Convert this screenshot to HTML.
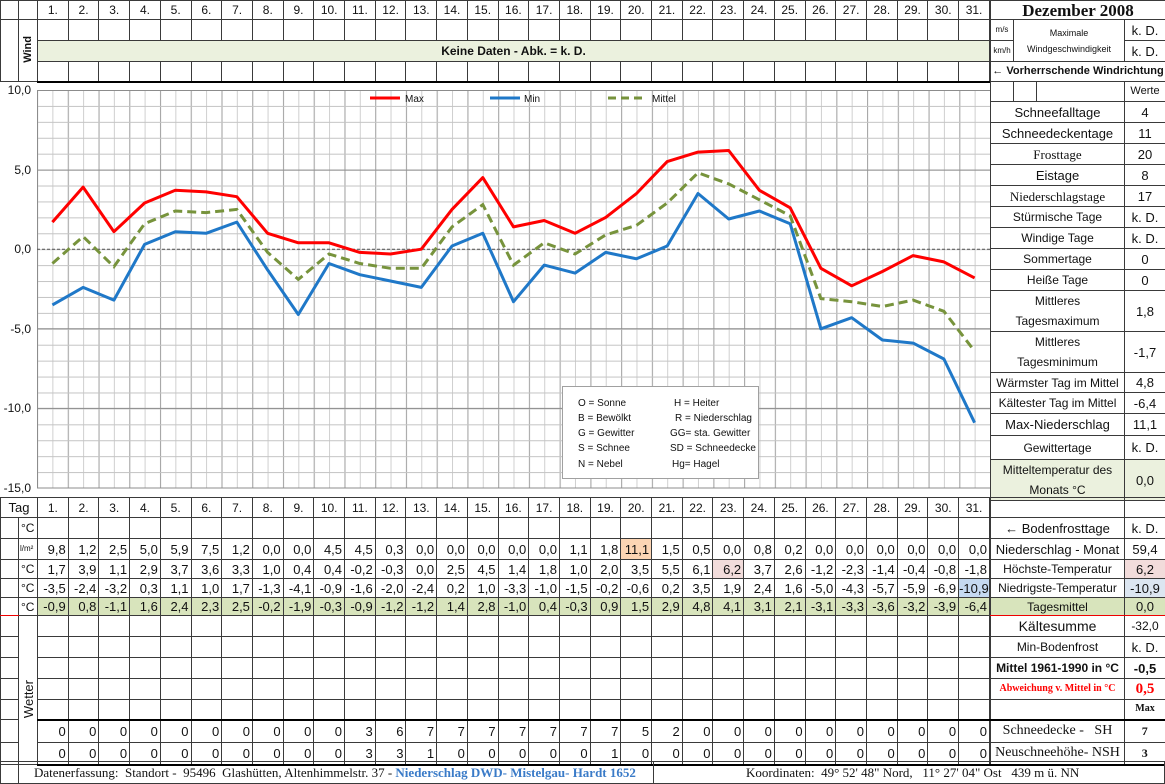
<!DOCTYPE html>
<html><head><meta charset="utf-8">
<style>
*{box-sizing:border-box}
body{margin:0;width:1165px;height:784px;position:relative;background:#fff;overflow:hidden;font-family:"Liberation Sans",sans-serif;color:#111}
table{position:absolute;border-collapse:collapse;table-layout:fixed}
td{border:1px solid #3a3a3a;padding:0;overflow:hidden;white-space:nowrap;font-size:12px;line-height:1}
.h td{text-align:center;font-size:12px}
.n td{text-align:right;padding-right:2px;font-size:13px}
.n td.u{text-align:left;padding-left:2px;font-size:12px}
.n td.us{text-align:left;padding-left:1px;font-size:8px}
.g td{background:#d8e4bc}
.g td.x{background:#fff}
.r td{text-align:center;font-size:13px}
.v{writing-mode:vertical-rl;transform:rotate(180deg);display:inline-block}
.thick td{border-top:2px solid #000}
.sb td{border-bottom:2px solid #000}
</style></head><body>

<!-- TOP LEFT -->
<table style="left:0;top:0;width:990px">
<colgroup><col style="width:18px"><col style="width:19px"><col span="31"></colgroup>
<tr class="h" style="height:19px"><td></td><td></td><td>1.</td><td>2.</td><td>3.</td><td>4.</td><td>5.</td><td>6.</td><td>7.</td><td>8.</td><td>9.</td><td>10.</td><td>11.</td><td>12.</td><td>13.</td><td>14.</td><td>15.</td><td>16.</td><td>17.</td><td>18.</td><td>19.</td><td>20.</td><td>21.</td><td>22.</td><td>23.</td><td>24.</td><td>25.</td><td>26.</td><td>27.</td><td>28.</td><td>29.</td><td>30.</td><td>31.</td></tr>
<tr style="height:21px"><td rowspan="3"></td><td rowspan="3" style="text-align:center;vertical-align:middle"><span class="v" style="font-weight:bold;font-size:11px">Wind</span></td><td></td><td></td><td></td><td></td><td></td><td></td><td></td><td></td><td></td><td></td><td></td><td></td><td></td><td></td><td></td><td></td><td></td><td></td><td></td><td></td><td></td><td></td><td></td><td></td><td></td><td></td><td></td><td></td><td></td><td></td><td></td></tr>
<tr style="height:21px"><td colspan="31" style="background:#ebf1de;text-align:center;font-weight:bold;font-size:12px">Keine Daten - Abk. = k. D.</td></tr>
<tr style="height:20px" class="sb"><td></td><td></td><td></td><td></td><td></td><td></td><td></td><td></td><td></td><td></td><td></td><td></td><td></td><td></td><td></td><td></td><td></td><td></td><td></td><td></td><td></td><td></td><td></td><td></td><td></td><td></td><td></td><td></td><td></td><td></td><td></td></tr>
</table>

<!-- CHART -->
<svg style="position:absolute;left:0;top:82px" width="990" height="415" viewBox="0 82 990 415">
<defs>
<pattern id="vg" x="37" y="0" width="30.742" height="10" patternUnits="userSpaceOnUse">
<line x1="0.5" y1="0" x2="0.5" y2="10" stroke="#a6a6a6" stroke-width="1.2"/>
<line x1="15.87" y1="0" x2="15.87" y2="10" stroke="#cfcfcf" stroke-width="1"/>
</pattern>
<pattern id="hg" x="0" y="90" width="10" height="15.92" patternUnits="userSpaceOnUse">
<line x1="0" y1="0.5" x2="10" y2="0.5" stroke="#c4c4c4" stroke-width="1"/>
</pattern>
</defs>
<rect x="37" y="90" width="953" height="398" fill="url(#vg)"/>
<rect x="37" y="90" width="953" height="398" fill="url(#hg)"/>
<g stroke="#8c8c8c" stroke-width="1">
<line x1="37" y1="90.5" x2="990" y2="90.5"/><line x1="37" y1="170.1" x2="990" y2="170.1"/><line x1="37" y1="328.8" x2="990" y2="328.8"/><line x1="37" y1="408.4" x2="990" y2="408.4"/><line x1="37" y1="488" x2="990" y2="488"/>
<line x1="37.5" y1="90" x2="37.5" y2="488"/>
</g>
<line x1="37" y1="249.2" x2="990" y2="249.2" stroke="#555" stroke-width="1" stroke-dasharray="3,2"/>
<g font-family="Liberation Sans, sans-serif" font-size="12" fill="#111" text-anchor="end">
<text x="31" y="94">10,0</text><text x="31" y="174">5,0</text><text x="31" y="253">0,0</text><text x="31" y="333">-5,0</text><text x="31" y="412">-10,0</text><text x="31" y="492">-15,0</text>
</g>
<polyline fill="none" stroke="#ff0000" stroke-width="3" stroke-linejoin="round" points="52.4,222.1 83.1,187.1 113.9,231.7 144.6,203 175.3,190.3 206.1,191.9 236.8,196.7 267.6,233.3 298.3,242.8 329,242.8 359.8,252.4 390.5,254 421.3,249.2 452,209.4 482.8,177.6 513.5,226.9 544.2,220.5 575,233.3 605.7,217.4 636.5,193.5 667.2,161.6 698,152.1 728.7,150.5 759.4,190.3 790.2,207.8 820.9,268.3 851.7,285.8 882.4,271.5 913.1,255.6 943.9,261.9 974.6,277.9"/>
<polyline fill="none" stroke="#1f78c8" stroke-width="3" stroke-linejoin="round" points="52.4,304.9 83.1,287.4 113.9,300.1 144.6,244.4 175.3,231.7 206.1,233.3 236.8,222.1 267.6,269.9 298.3,314.5 329,263.5 359.8,274.7 390.5,281 421.3,287.4 452,246 482.8,233.3 513.5,301.7 544.2,265.1 575,273.1 605.7,252.4 636.5,258.8 667.2,246 698,193.5 728.7,219 759.4,211 790.2,223.7 820.9,328.8 851.7,317.7 882.4,340 913.1,343.1 943.9,359 974.6,422.7"/>
<polyline fill="none" stroke="#77933c" stroke-width="3" stroke-dasharray="9,5" points="52.4,263.5 83.1,236.5 113.9,266.7 144.6,223.7 175.3,211 206.1,212.6 236.8,209.4 267.6,252.4 298.3,279.4 329,254 359.8,263.5 390.5,268.3 421.3,268.3 452,226.9 482.8,204.6 513.5,265.1 544.2,242.8 575,254 605.7,234.9 636.5,225.3 667.2,203 698,172.8 728.7,183.9 759.4,199.8 790.2,215.8 820.9,298.6 851.7,301.7 882.4,306.5 913.1,300.1 943.9,311.3 974.6,351.1"/>
<g font-family="Liberation Sans, sans-serif" font-size="10" fill="#111">
<line x1="370" y1="98" x2="400" y2="98" stroke="#ff0000" stroke-width="3"/><text x="405" y="102">Max</text>
<line x1="490" y1="98" x2="520" y2="98" stroke="#1f78c8" stroke-width="3"/><text x="524" y="102">Min</text>
<line x1="608" y1="98" x2="642" y2="98" stroke="#77933c" stroke-width="3" stroke-dasharray="8,5"/><text x="652" y="102">Mittel</text>
<rect x="562.5" y="386.5" width="196" height="92" fill="#fff" stroke="#a0a0a0"/>
<text x="578" y="406">O = Sonne</text><text x="674" y="406">H = Heiter</text>
<text x="578" y="421">B = Bewölkt</text><text x="675" y="421">R = Niederschlag</text>
<text x="578" y="436">G = Gewitter</text><text x="670" y="436">GG= sta. Gewitter</text>
<text x="578" y="451">S = Schnee</text><text x="670" y="451">SD = Schneedecke</text>
<text x="578" y="467">N = Nebel</text><text x="672" y="467">Hg= Hagel</text>
</g>
</svg>

<!-- RIGHT TOP -->
<table style="left:990px;top:0;width:175px">
<colgroup><col style="width:23px"><col style="width:23px"><col style="width:88px"><col style="width:41px"></colgroup>
<tr style="height:19px"><td colspan="4" style="text-align:center;font-family:'Liberation Serif',serif;font-weight:bold;font-size:17px">Dezember 2008</td></tr>
<tr style="height:21px"><td style="font-size:8px;text-align:center">m/s</td><td colspan="2" rowspan="2" style="text-align:center;font-size:9px;line-height:16px">Maximale<br>Windgeschwindigkeit</td><td style="text-align:center;font-size:13px">k. D.</td></tr>
<tr style="height:21px"><td style="font-size:8px;text-align:center">km/h</td><td style="text-align:center;font-size:13px">k. D.</td></tr>
<tr style="height:20px"><td colspan="4" style="text-align:center;font-weight:bold;font-size:11px">← Vorherrschende Windrichtung</td></tr>
<tr style="height:20px"><td></td><td></td><td></td><td style="text-align:center;font-size:11px">Werte</td></tr>
</table>
<table class="r" style="left:990px;top:101px;width:175px">
<colgroup><col style="width:134px"><col style="width:41px"></colgroup>
<tr style="height:21px"><td>Schneefalltage</td><td>4</td></tr>
<tr style="height:21px"><td>Schneedeckentage</td><td>11</td></tr>
<tr style="height:21px"><td style="font-family:'Liberation Serif',serif">Frosttage</td><td>20</td></tr>
<tr style="height:21px"><td>Eistage</td><td>8</td></tr>
<tr style="height:21px"><td style="font-family:'Liberation Serif',serif">Niederschlagstage</td><td>17</td></tr>
<tr style="height:21px"><td style="font-size:12px">Stürmische Tage</td><td>k. D.</td></tr>
<tr style="height:21px"><td style="font-size:12px">Windige Tage</td><td>k. D.</td></tr>
<tr style="height:21px"><td style="font-size:12px">Sommertage</td><td>0</td></tr>
<tr style="height:21px"><td style="font-size:12px">Heiße Tage</td><td>0</td></tr>
<tr style="height:40px"><td style="font-size:12px;line-height:20px">Mittleres<br>Tagesmaximum</td><td>1,8</td></tr>
<tr style="height:40px"><td style="font-size:12px;line-height:20px">Mittleres<br>Tagesminimum</td><td>-1,7</td></tr>
<tr style="height:20px"><td style="font-size:12px">Wärmster Tag im Mittel</td><td>4,8</td></tr>
<tr style="height:21px"><td style="font-size:12px">Kältester Tag im Mittel</td><td>-6,4</td></tr>
<tr style="height:22px"><td>Max-Niederschlag</td><td>11,1</td></tr>
<tr style="height:24px"><td style="font-size:12px">Gewittertage</td><td>k. D.</td></tr>
<tr style="height:40px"><td style="background:#ebf1de;font-size:12px;line-height:20px">Mitteltemperatur des<br>Monats °C</td><td style="background:#ebf1de">0,0</td></tr>
</table>

<!-- BOTTOM LEFT -->
<table style="left:0;top:497px;width:990px">
<colgroup><col style="width:18px"><col style="width:19px"><col span="31"></colgroup>
<tr class="h" style="height:20px"><td colspan="2" style="font-size:13px">Tag</td><td>1.</td><td>2.</td><td>3.</td><td>4.</td><td>5.</td><td>6.</td><td>7.</td><td>8.</td><td>9.</td><td>10.</td><td>11.</td><td>12.</td><td>13.</td><td>14.</td><td>15.</td><td>16.</td><td>17.</td><td>18.</td><td>19.</td><td>20.</td><td>21.</td><td>22.</td><td>23.</td><td>24.</td><td>25.</td><td>26.</td><td>27.</td><td>28.</td><td>29.</td><td>30.</td><td>31.</td></tr>
<tr class="n" style="height:21px"><td></td><td class="u">°C</td><td></td><td></td><td></td><td></td><td></td><td></td><td></td><td></td><td></td><td></td><td></td><td></td><td></td><td></td><td></td><td></td><td></td><td></td><td></td><td></td><td></td><td></td><td></td><td></td><td></td><td></td><td></td><td></td><td></td><td></td><td></td></tr>
<tr class="n" style="height:21px"><td></td><td class="us">l/m²</td><td>9,8</td><td>1,2</td><td>2,5</td><td>5,0</td><td>5,9</td><td>7,5</td><td>1,2</td><td>0,0</td><td>0,0</td><td>4,5</td><td>4,5</td><td>0,3</td><td>0,0</td><td>0,0</td><td>0,0</td><td>0,0</td><td>0,0</td><td>1,1</td><td>1,8</td><td style="background:#fcd5b4">11,1</td><td>1,5</td><td>0,5</td><td>0,0</td><td>0,8</td><td>0,2</td><td>0,0</td><td>0,0</td><td>0,0</td><td>0,0</td><td>0,0</td><td>0,0</td></tr>
<tr class="n" style="height:19px"><td style="border-top:1px solid #e00"></td><td class="u">°C</td><td>1,7</td><td>3,9</td><td>1,1</td><td>2,9</td><td>3,7</td><td>3,6</td><td>3,3</td><td>1,0</td><td>0,4</td><td>0,4</td><td>-0,2</td><td>-0,3</td><td>0,0</td><td>2,5</td><td>4,5</td><td>1,4</td><td>1,8</td><td>1,0</td><td>2,0</td><td>3,5</td><td>5,5</td><td>6,1</td><td style="background:#f2dcdb">6,2</td><td>3,7</td><td>2,6</td><td>-1,2</td><td>-2,3</td><td>-1,4</td><td>-0,4</td><td>-0,8</td><td>-1,8</td></tr>
<tr class="n" style="height:19px"><td></td><td class="u">°C</td><td>-3,5</td><td>-2,4</td><td>-3,2</td><td>0,3</td><td>1,1</td><td>1,0</td><td>1,7</td><td>-1,3</td><td>-4,1</td><td>-0,9</td><td>-1,6</td><td>-2,0</td><td>-2,4</td><td>0,2</td><td>1,0</td><td>-3,3</td><td>-1,0</td><td>-1,5</td><td>-0,2</td><td>-0,6</td><td>0,2</td><td>3,5</td><td>1,9</td><td>2,4</td><td>1,6</td><td>-5,0</td><td>-4,3</td><td>-5,7</td><td>-5,9</td><td>-6,9</td><td style="background:#c5d9f1">-10,9</td></tr>
<tr class="n g" style="height:18px;border-bottom:1px solid #e00"><td class="x" style="border-bottom:1px solid #e00"></td><td class="u x">°C</td><td>-0,9</td><td>0,8</td><td>-1,1</td><td>1,6</td><td>2,4</td><td>2,3</td><td>2,5</td><td>-0,2</td><td>-1,9</td><td>-0,3</td><td>-0,9</td><td>-1,2</td><td>-1,2</td><td>1,4</td><td>2,8</td><td>-1,0</td><td>0,4</td><td>-0,3</td><td>0,9</td><td>1,5</td><td>2,9</td><td>4,8</td><td>4,1</td><td>3,1</td><td>2,1</td><td>-3,1</td><td>-3,3</td><td>-3,6</td><td>-3,2</td><td>-3,9</td><td>-6,4</td></tr>
<tr style="height:21px"><td></td><td rowspan="7" style="text-align:center;vertical-align:middle;padding-top:20px"><span class="v" style="font-size:13px">Wetter</span></td><td></td><td></td><td></td><td></td><td></td><td></td><td></td><td></td><td></td><td></td><td></td><td></td><td></td><td></td><td></td><td></td><td></td><td></td><td></td><td></td><td></td><td></td><td></td><td></td><td></td><td></td><td></td><td></td><td></td><td></td><td></td></tr>
<tr style="height:21px"><td></td><td></td><td></td><td></td><td></td><td></td><td></td><td></td><td></td><td></td><td></td><td></td><td></td><td></td><td></td><td></td><td></td><td></td><td></td><td></td><td></td><td></td><td></td><td></td><td></td><td></td><td></td><td></td><td></td><td></td><td></td><td></td></tr>
<tr style="height:21px"><td></td><td></td><td></td><td></td><td></td><td></td><td></td><td></td><td></td><td></td><td></td><td></td><td></td><td></td><td></td><td></td><td></td><td></td><td></td><td></td><td></td><td></td><td></td><td></td><td></td><td></td><td></td><td></td><td></td><td></td><td></td><td></td></tr>
<tr style="height:21px"><td></td><td></td><td></td><td></td><td></td><td></td><td></td><td></td><td></td><td></td><td></td><td></td><td></td><td></td><td></td><td></td><td></td><td></td><td></td><td></td><td></td><td></td><td></td><td></td><td></td><td></td><td></td><td></td><td></td><td></td><td></td><td></td></tr>
<tr style="height:20px"><td></td><td></td><td></td><td></td><td></td><td></td><td></td><td></td><td></td><td></td><td></td><td></td><td></td><td></td><td></td><td></td><td></td><td></td><td></td><td></td><td></td><td></td><td></td><td></td><td></td><td></td><td></td><td></td><td></td><td></td><td></td><td></td></tr>
<tr class="n thick" style="height:23px"><td style="border-top:1px solid #3a3a3a"></td><td>0</td><td>0</td><td>0</td><td>0</td><td>0</td><td>0</td><td>0</td><td>0</td><td>0</td><td>0</td><td>3</td><td>6</td><td>7</td><td>7</td><td>7</td><td>7</td><td>7</td><td>7</td><td>7</td><td>5</td><td>2</td><td>0</td><td>0</td><td>0</td><td>0</td><td>0</td><td>0</td><td>0</td><td>0</td><td>0</td><td>0</td></tr>
<tr class="n sb" style="height:22px"><td style="border-bottom:1px solid #3a3a3a"></td><td>0</td><td>0</td><td>0</td><td>0</td><td>0</td><td>0</td><td>0</td><td>0</td><td>0</td><td>0</td><td>3</td><td>3</td><td>1</td><td>0</td><td>0</td><td>0</td><td>0</td><td>0</td><td>1</td><td>0</td><td>0</td><td>0</td><td>0</td><td>0</td><td>0</td><td>0</td><td>0</td><td>0</td><td>0</td><td>0</td><td>0</td></tr>
</table>

<!-- BOTTOM RIGHT -->
<table class="r" style="left:990px;top:497px;width:175px">
<colgroup><col style="width:134px"><col style="width:41px"></colgroup>
<tr style="height:20px"><td></td><td></td></tr>
<tr style="height:21px"><td style="font-size:13px">← Bodenfrosttage</td><td>k. D.</td></tr>
<tr style="height:21px"><td style="font-size:13px">Niederschlag - Monat</td><td>59,4</td></tr>
<tr style="height:19px"><td style="font-size:12px;border-top:1px solid #e00">Höchste-Temperatur</td><td style="background:#f2dcdb">6,2</td></tr>
<tr style="height:19px"><td style="font-size:12px">Niedrigste-Temperatur</td><td style="background:#dce6f1">-10,9</td></tr>
<tr style="height:18px"><td style="background:#d8e4bc;font-size:12px;border-bottom:1px solid #e00">Tagesmittel</td><td style="background:#d8e4bc;border-bottom:1px solid #e00">0,0</td></tr>
<tr style="height:21px"><td style="font-size:14px">Kältesumme</td><td style="font-size:12px">-32,0</td></tr>
<tr style="height:21px"><td style="font-size:12px">Min-Bodenfrost</td><td>k. D.</td></tr>
<tr style="height:21px"><td style="font-weight:bold;font-size:12px">Mittel 1961-1990 in °C</td><td style="font-weight:bold">-0,5</td></tr>
<tr style="height:21px"><td style="font-family:'Liberation Serif',serif;font-weight:bold;font-size:10px;color:#f00">Abweichung v. Mittel in °C</td><td style="font-family:'Liberation Serif',serif;font-weight:bold;font-size:15px;color:#f00">0,5</td></tr>
<tr style="height:20px"><td></td><td style="font-family:'Liberation Serif',serif;font-weight:bold;font-size:10px">Max</td></tr>
<tr style="height:23px" class="thick"><td style="font-family:'Liberation Serif',serif;font-size:14px">Schneedecke -&nbsp;&nbsp; SH</td><td style="font-family:'Liberation Serif',serif;font-weight:bold;font-size:12px;border-right:2px solid #000">7</td></tr>
<tr style="height:22px" class="sb"><td style="font-family:'Liberation Serif',serif;font-size:14px">Neuschneehöhe- NSH</td><td style="font-family:'Liberation Serif',serif;font-weight:bold;font-size:12px;border-right:2px solid #000">3</td></tr>
</table>

<!-- FOOTER -->
<div style="position:absolute;left:0;top:761px;width:1165px;height:23px;border:1px solid #3a3a3a;font-family:'Liberation Serif',serif;font-size:13px">
<div style="position:absolute;left:17px;top:0;width:1px;height:22px;background:#3a3a3a"></div>
<div style="position:absolute;left:33px;top:3px;white-space:nowrap">Datenerfassung:&nbsp; Standort -&nbsp; 95496&nbsp; Glashütten, Altenhimmelstr. 37 - <span style="color:#3a7bc8;font-weight:bold">Niederschlag DWD- Mistelgau- Hardt 1652</span></div>
<div style="position:absolute;left:652px;top:0;width:1px;height:22px;background:#3a3a3a"></div>
<div style="position:absolute;left:745px;top:3px;white-space:nowrap">Koordinaten:&nbsp; 49° 52' 48" Nord,&nbsp;&nbsp; 11° 27' 04" Ost&nbsp;&nbsp; 439 m ü. NN</div>
</div>
</body></html>
